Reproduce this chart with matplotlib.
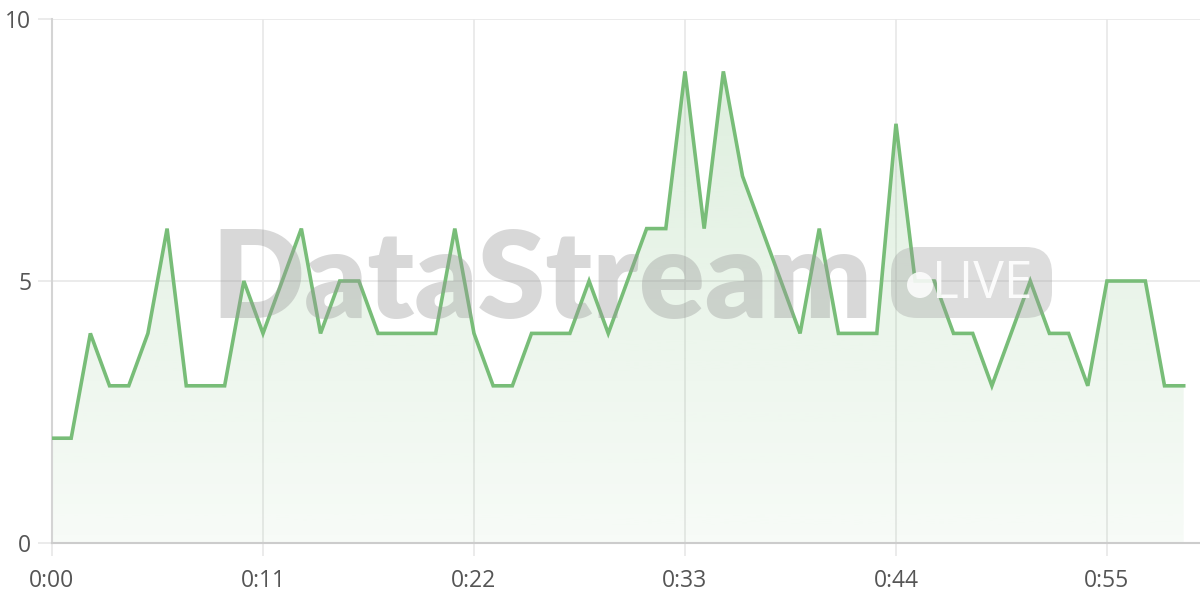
import numpy as np
import matplotlib
matplotlib.use("Agg")
import matplotlib.pyplot as plt
from matplotlib.patches import FancyBboxPatch, Circle
from matplotlib.transforms import IdentityTransform

# data: one value per minute
minutes = list(range(60))
values = [2, 2, 4, 3, 3, 4, 6, 3, 3, 3,
          5, 4, 5, 6, 4, 5, 5, 4, 4, 4,
          4, 6, 4, 3, 3, 4, 4, 4, 5, 4,
          5, 6, 6, 9, 6, 9, 7, 6, 5, 4,
          6, 4, 4, 4, 8, 5, 5, 4, 4, 3,
          4, 5, 4, 4, 3, 5, 5, 5, 3, 3]
x_ticks = [0, 11, 22, 33, 44, 55]
x_labels = ["0:00", "0:11", "0:22", "0:33", "0:44", "0:55"]
y_ticks = [0, 5, 10]

line_col = "#78bd78"
grid_col = "#e8e8e8"
text_col = "#555555"

plt.rcParams["font.family"] = ["Open Sans", "DejaVu Sans"]

fig = plt.figure(figsize=(12, 6), dpi=100)
ax = fig.add_axes([52 / 1200, 57 / 600, 1148 / 1200, 524 / 600])
ax.set_xlim(0, 59.85)
ax.set_ylim(0, 10)

# gradient fill under the line
grad = np.zeros((256, 1, 4))
grad[:, 0, 0] = 120 / 255
grad[:, 0, 1] = 189 / 255
grad[:, 0, 2] = 120 / 255
grad[:, 0, 3] = np.linspace(0.26, 0.06, 256)
img = ax.imshow(grad, extent=[0, 59.85, 0, 10], origin="upper",
                aspect="auto", zorder=1)
poly = ax.fill_between(minutes, values, 0, color="none", lw=0)
clip = poly.get_paths()[0]
img.set_clip_path(clip, ax.transData)

ax.plot(minutes, values, color=line_col, lw=2.6, zorder=4,
        solid_joinstyle="miter")

# grid / axes
ax.set_xticks(x_ticks)
ax.set_xticklabels(x_labels)
ax.set_yticks(y_ticks)
ax.grid(True, color=grid_col, lw=1.2, zorder=0)
ax.set_axisbelow(True)
for s in ["top", "right"]:
    ax.spines[s].set_visible(False)
ax.spines["left"].set_color("#d4d4d4")
ax.spines["bottom"].set_color("#cccccc")
ax.spines["left"].set_linewidth(1.5)
ax.spines["bottom"].set_linewidth(1.5)
ax.tick_params(axis="x", length=9, color=grid_col, width=1.2,
               labelsize=16.5, labelcolor=text_col, pad=10)
ax.tick_params(axis="y", length=10, color=grid_col, width=1.2,
               labelsize=16.5, labelcolor=text_col, pad=5)

# watermark (pixel coords, origin bottom-left)
px = IdentityTransform()
fig.text(0.4517, 0.47, "DataStream", fontsize=88, fontweight="heavy",
         family=["Lato", "DejaVu Sans"], color="#999999", alpha=0.38,
         ha="center", va="baseline", zorder=3)
badge = FancyBboxPatch((891, 282), 161, 71,
                       boxstyle="round,pad=0,rounding_size=26",
                       transform=px, facecolor="#999999",
                       alpha=0.33, edgecolor="none", zorder=3)
fig.patches.append(badge)
fig.patches.append(Circle((920, 315), 13, transform=px, facecolor="white",
                          alpha=0.85, edgecolor="none", zorder=3))
fig.text(982 / 1200, 0.503, "LIVE", fontsize=37, color="white", alpha=0.9,
         ha="center", va="baseline", zorder=3)

fig.savefig("out.png", dpi=100)
